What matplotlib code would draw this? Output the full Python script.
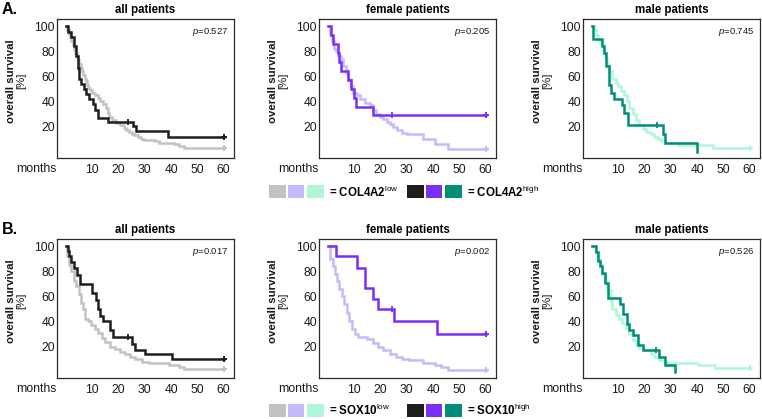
import numpy as np
import matplotlib
matplotlib.use("Agg")
import matplotlib.pyplot as plt
from matplotlib.patches import Rectangle

plt.rcParams['font.family'] = ['Liberation Sans', 'DejaVu Sans']
plt.rcParams['mathtext.fontset'] = 'custom'
plt.rcParams['mathtext.rm'] = 'Liberation Sans'
plt.rcParams['mathtext.it'] = 'Liberation Sans:italic'
plt.rcParams['mathtext.bf'] = 'Liberation Sans:bold'

# ---------------- data (months, % survival) ----------------
A_all_low_t = [0, 0.5, 1, 1.5, 2, 2.5, 3, 3.5, 4, 4.5, 5, 5.5, 6, 6.5, 7, 7.5, 8, 8.5, 9, 10, 11, 12, 13, 14, 15, 16,
               16.5, 17.5, 19, 20.5, 22, 23, 24, 25, 26, 27.5, 28.5, 29.5, 34, 35.5, 41, 43, 45, 60]
A_all_low_s = [100, 97, 94, 91, 88, 85, 82, 79, 76, 73, 70, 67, 64, 61, 58, 56, 53, 51, 49, 47, 45, 43, 40, 38, 35, 31,
               28, 25, 23, 21, 19, 17, 16, 14.5, 13, 12, 10.5, 9.5, 8.5, 7.3, 6, 4.5, 2.8, 2.8]
A_all_high_t = [0, 0.8, 1.8, 2.8, 3.0, 3.6, 4.5, 4.9, 5.8, 6.8, 7.7, 8.6, 10.3, 10.9, 12.2, 16.0, 25.6, 26.5, 39.0, 60]
A_all_high_s = [100, 95, 91, 88, 84, 76, 67, 58, 54, 50, 46, 42, 38, 33, 27, 24, 20.5, 16.5, 12, 12]
A_all_cens = [23.5]

A_fem_low_t = [0, 0.8, 1.4, 2.3, 3.0, 3.9, 4.8, 5.8, 6.8, 7.7, 8.7, 9.6, 10.9, 12.2, 14.1, 16.0, 17.0, 18.2, 19.7,
               21.0, 22.3, 23.5, 24.8, 26.1, 28.0, 29.9, 36.2, 40.6, 45.7, 60]
A_fem_low_s = [100, 93, 88, 82, 80, 76, 74, 68, 63, 58, 52, 47, 45, 42, 39, 37, 33, 30, 28,
               26, 24, 22, 20, 17, 15, 14, 10, 6, 2, 2]
A_fem_high_t = [0, 1.1, 2.0, 3.9, 4.3, 4.8, 7.7, 8.7, 9.9, 10.6, 17.0, 60]
A_fem_high_s = [100, 93, 86, 79, 71.5, 64, 57, 50, 43, 36, 29, 29]
A_fem_cens = [24.2]

A_male_low_t = [0, 0.6, 1.3, 2.3, 3.2, 4.2, 4.9, 5.8, 6.4, 7.7, 9.0, 9.9, 10.9, 12.2, 13.2, 14.1, 15.4, 16.7, 17.9,
                19.2, 20.5, 22.4, 23.7, 25.0, 26.3, 27.6, 32.7, 46.2, 60]
A_male_low_s = [100, 97, 93, 89, 85, 80, 75, 70, 64, 58, 55, 52, 48, 45, 40, 35, 30, 25, 21,
                18, 16, 14, 12, 10, 8.5, 7, 5, 3, 3]
A_male_high_t = [0, 0.4, 3.6, 4.5, 5.4, 6.4, 7.1, 8.3, 11.2, 12.2, 13.5, 26.9, 27.8, 40.0]
A_male_high_s = [100, 89.5, 84, 79, 68, 53, 47, 42, 37, 31, 21, 14, 6.6, 0]
A_male_cens = [24.7]

B_all_low_t = [0, 0.3, 0.9, 1.9, 2.9, 3.8, 4.9, 5.8, 6.4, 7.3, 8.3, 9.6, 10.9, 12.2, 13.5, 14.7, 16.7, 18.6, 20.5,
               22.4, 24.4, 26.3, 28.8, 31.4, 39.1, 42.9, 44.9, 60]
B_all_low_s = [100, 92, 85, 80, 72, 68, 62, 55, 50, 42, 40, 37, 34, 31, 27, 24, 20, 18, 16,
               14, 12, 10, 8, 7, 5, 4, 2, 2]
B_all_high_t = [0, 0.6, 1.0, 1.9, 2.9, 4.0, 5.1, 10.0, 11.2, 12.2, 12.8, 14.1, 16.7, 17.9, 25.0, 26.3, 30.1, 40.4, 60]
B_all_high_s = [100, 96, 92, 87, 83, 77, 70, 63, 57, 50, 44, 40, 33, 28, 22, 17, 14, 10.5, 10.5]
B_all_cens = [23.7]

B_fem_low_t = [0, 0.8, 1.8, 2.7, 3.5, 4.3, 5.2, 6.2, 7.1, 8.1, 9.0, 10.2, 11.5, 14.7, 17.2, 19.1, 21.0, 23.5, 26.0,
               28.0, 31.0, 36.2, 40.6, 43.0, 45.7, 60]
B_fem_low_s = [100, 90, 84, 78, 72, 66, 60, 54, 47, 40, 34, 30, 28, 26, 23, 20, 17, 14, 12,
               10, 9, 7, 5, 3.5, 1.5, 1.5]
B_fem_high_t = [0, 3.0, 10.9, 14.1, 17.0, 19.1, 25.1, 41.5, 60]
B_fem_high_s = [100, 92, 83, 67, 58, 50, 40, 30, 30]
B_fem_cens = [24.2]

B_male_low_t = [0, 1.0, 1.9, 2.8, 3.8, 4.7, 5.8, 7.1, 7.7, 9.0, 10.3, 11.5, 12.8, 14.1, 15.4, 16.7, 17.9, 19.9,
                22.4, 23.7, 25.6, 27.6, 28.8, 40.4, 46.8, 60]
B_male_low_s = [100, 95, 90, 85, 78, 72, 65, 56, 50, 45, 42, 39, 35, 30, 25, 22, 19, 17,
                14, 12, 9.5, 8, 7, 5, 3, 3]
B_male_high_t = [0, 1.3, 2.3, 2.9, 3.8, 4.7, 6.0, 10.6, 11.9, 13.2, 14.1, 15.4, 17.6, 19.2, 25.3, 27.6, 31.7]
B_male_high_s = [100, 95, 88, 84, 79, 71, 59, 54, 46, 38, 33, 29, 21, 17, 12, 5.3, 0]
B_male_cens = [24.4]

titles = ["all patients", "female patients", "male patients"]
pvals_A = ["0.527", "0.205", "0.745"]
pvals_B = ["0.017", "0.002", "0.526"]
x_ticks = [10, 20, 30, 40, 50, 60]
y_ticks = [20, 40, 60, 80, 100]
genes = ["COL4A2", "SOX10"]

low_colors = ["#c2c2c2", "#c4bcfa", "#b2f6d8"]
high_colors = ["#1e1e1e", "#7b2ff6", "#008e78"]

# ---------------- layout ----------------
W, H = 762, 419
fig = plt.figure(figsize=(W / 100, H / 100), dpi=100)


def fx(px):
    return px / W


def fy(py):
    return 1 - py / H


col_left = [57, 319, 583]
ax_w = 177
row_top = [19, 239]
ax_h = 139

panels = [
    (0, 0, A_all_low_t, A_all_low_s, A_all_high_t, A_all_high_s, A_all_cens, pvals_A[0]),
    (0, 1, A_fem_low_t, A_fem_low_s, A_fem_high_t, A_fem_high_s, A_fem_cens, pvals_A[1]),
    (0, 2, A_male_low_t, A_male_low_s, A_male_high_t, A_male_high_s, A_male_cens, pvals_A[2]),
    (1, 0, B_all_low_t, B_all_low_s, B_all_high_t, B_all_high_s, B_all_cens, pvals_B[0]),
    (1, 1, B_fem_low_t, B_fem_low_s, B_fem_high_t, B_fem_high_s, B_fem_cens, pvals_B[1]),
    (1, 2, B_male_low_t, B_male_low_s, B_male_high_t, B_male_high_s, B_male_cens, pvals_B[2]),
]


def surv_at(t_arr, s_arr, t):
    i = np.searchsorted(np.asarray(t_arr), t, side='right') - 1
    return s_arr[i]


for row, col, lt, ls_, ht, hs, cens, pv in panels:
    l = col_left[col]
    top = row_top[row]
    ax = fig.add_axes([fx(l), fy(top + ax_h), fx(ax_w), ax_h / H])
    lc, hc = low_colors[col], high_colors[col]
    ax.step(lt, ls_, where='post', color=lc, lw=1.8, zorder=2, solid_joinstyle='miter')
    ax.step(ht, hs, where='post', color=hc, lw=1.8, zorder=3, solid_joinstyle='miter')
    # censor marks
    for c in cens:
        ax.plot([c], [surv_at(ht, hs, c)], marker='|', ms=4.5, mew=1.3, color=hc, zorder=4)
    if lt[-1] >= 60:
        ax.plot([lt[-1]], [ls_[-1]], marker='+', ms=4, mew=1.4, color=lc, zorder=4)
    if ht[-1] >= 60:
        ax.plot([ht[-1]], [hs[-1]], marker='+', ms=4, mew=1.4, color=hc, zorder=4)

    ax.set_xlim(-3.5, 64)
    ax.set_ylim(-5, 105.7)
    ax.set_xticks(x_ticks)
    ax.set_yticks(y_ticks)
    ax.tick_params(axis='both', length=0, labelsize=8.8, colors='#1a1a1a')
    ax.tick_params(axis='x', pad=4)
    ax.tick_params(axis='y', pad=1.5)
    for sp in ax.spines.values():
        sp.set_linewidth(0.9)
        sp.set_color('#2a2a2a')
    ax.set_title(titles[col], fontsize=8.3, fontweight='bold', pad=4.5)
    ax.text(1 - 6 / ax_w, 1 - 13 / ax_h, r'$p$=' + pv, transform=ax.transAxes,
            ha='right', va='center', fontsize=6.8, color='#1a1a1a')
    # months label
    fig.text(fx(l - 0.5), fy(top + ax_h + 11), 'months', ha='right', va='center', fontsize=8.8,
             color='#1a1a1a')
    # y label (two lines)
    fig.text(fx(l - 46), fy(top + 62), 'overall survival', rotation=90, ha='center', va='center',
             fontsize=8.2, fontweight='bold', color='#1a1a1a')
    fig.text(fx(l - 35.5), fy(top + 62), '[%]', rotation=90, ha='center', va='center',
             fontsize=8.2, color='#1a1a1a')

# panel letters
fig.text(fx(2), fy(10), 'A.', fontsize=11.5, fontweight='bold', ha='left', va='center')
fig.text(fx(2), fy(229), 'B.', fontsize=11.5, fontweight='bold', ha='left', va='center')

# legends
sq_low_x = [269, 287.7, 307]
sq_high_x = [407.3, 425.7, 445]
sq_w, sq_h = 16.7, 13.3
for gi, (gene, yc) in enumerate(zip(genes, [191.7, 410.3])):
    for x0, c in zip(sq_low_x, low_colors):
        fig.add_artist(Rectangle((fx(x0), fy(yc + sq_h / 2)), fx(sq_w), sq_h / H,
                                 transform=fig.transFigure, color=c, lw=0))
    for x0, c in zip(sq_high_x, high_colors):
        fig.add_artist(Rectangle((fx(x0), fy(yc + sq_h / 2)), fx(sq_w), sq_h / H,
                                 transform=fig.transFigure, color=c, lw=0))
    fig.text(fx(328.7), fy(yc + 0.5), '= ' + gene + r'$^{\mathrm{low}}$', fontsize=8.3, fontweight='bold',
             ha='left', va='center')
    fig.text(fx(467.3), fy(yc + 0.5), '= ' + gene + r'$^{\mathrm{high}}$', fontsize=8.3, fontweight='bold',
             ha='left', va='center')

fig.savefig('out.png', dpi=100)
